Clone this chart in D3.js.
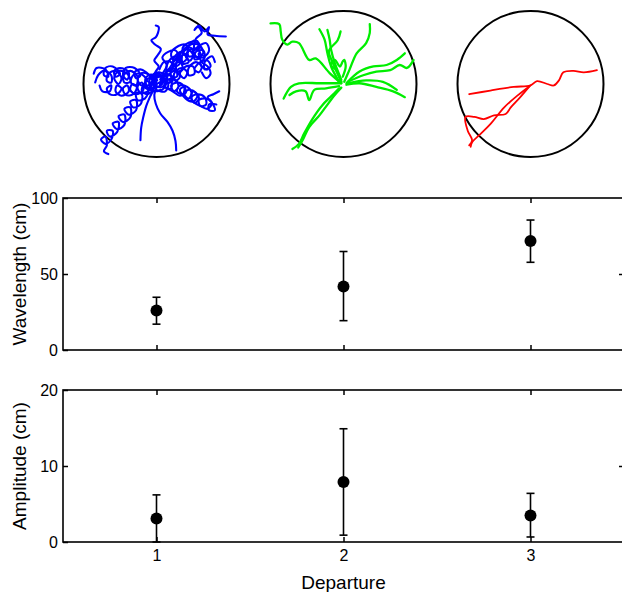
<!DOCTYPE html>
<html>
<head>
<meta charset="utf-8">
<script src="https://cdn.jsdelivr.net/npm/d3@7/dist/d3.min.js"></script>
<style>
  html, body { margin: 0; padding: 0; background: #fff; }
  svg { display: block; font-family: "Liberation Sans", Arial, sans-serif; }
</style>
</head>
<body>
<svg id="chart" width="622" height="592"></svg>
<script>
// ---------------- DATA ----------------
const departures = [1, 2, 3];
const xTickLabels = ["1", "2", "3"];

const wavelengthMean  = [26, 41.7, 71.7];
const wavelengthUpper = [34.7, 64.8, 85.5];
const wavelengthLower = [17, 19.3, 57.7];
const wavelengthTicks = [0, 50, 100];

const amplitudeMean  = [3.1, 7.9, 3.5];
const amplitudeUpper = [6.2, 14.9, 6.4];
const amplitudeLower = [0, 0.9, 0.66];
const amplitudeTicks = [0, 10, 20];

// Trajectories, arena units (radius = 100, origin = arena centre, y downward)
const blueTracks = [
  [[0,-4],[-7,-13],[-15,-8],[-13,2],[-5,-2],[-10,-12],[-20,-15],[-26,-6],[-20,2],[-14,-6],[-22,-14],[-32,-12],[-35,-2],[-28,2],[-26,-10],[-36,-18],[-45,-12],[-44,-2],[-36,-3],[-40,-14],[-52,-18],[-58,-8],[-52,0],[-48,-8],[-56,-18],[-66,-14],[-68,-4],[-62,-2],[-62,-12],[-72,-18],[-80,-12],[-84,-2]],
  [[0,2],[-8,8],[-16,4],[-14,-4],[-7,0],[-12,10],[-22,12],[-26,4],[-20,-2],[-18,8],[-28,14],[-36,8],[-33,0],[-27,4],[-32,14],[-42,15],[-46,6],[-40,2],[-38,10],[-48,16],[-56,10],[-54,2],[-48,6],[-54,14],[-64,14],[-68,6],[-62,2],[-64,10],[-74,10],[-78,2]],
  [[-5,8],[-12,14],[-20,10],[-18,2],[-11,8],[-16,20],[-26,22],[-28,12],[-20,14],[-22,28],[-32,32],[-36,24],[-28,22],[-28,36],[-38,42],[-44,34],[-36,32],[-36,46],[-46,52],[-52,44],[-44,42],[-44,56],[-54,62],[-60,54],[-52,52],[-54,66],[-64,72],[-68,64],[-60,64],[-62,76],[-70,82],[-76,76],[-70,72],[-68,84],[-72,92],[-66,96]],
  [[0,5],[-3,15],[-1,27],[5,40],[15,52],[22,64],[26,78],[27,91]],
  [[-4,8],[-10,20],[-14,30],[-18,45],[-21,60],[-22,77]],
  [[1,-5],[-2,-15],[3,-24],[-3,-32],[2,-40],[6,-48],[-2,-54],[-7,-60],[-1,-64],[2,-70],[3,-78],[-1,-80]],
  [[5,-6],[12,-14],[20,-10],[18,-2],[10,-8],[16,-20],[26,-20],[28,-10],[20,-10],[22,-24],[32,-30],[36,-20],[28,-18],[28,-32],[38,-40],[44,-30],[36,-28],[36,-42],[46,-50],[52,-40],[44,-38],[44,-52],[54,-60],[60,-50],[52,-48],[54,-62],[62,-70],[57,-78],[52,-74],[58,-80],[66,-72],[72,-78],[70,-68],[80,-66],[95,-65]],
  [[5,0],[12,-7],[20,-4],[20,6],[12,4],[16,-6],[26,-6],[30,4],[24,10],[20,2],[30,-2],[38,4],[36,14],[28,10],[32,2],[42,4],[48,12],[44,20],[38,14],[44,8],[54,12],[58,20],[52,26],[48,18],[56,14],[66,18],[68,28],[60,30],[58,22],[68,20],[76,26],[80,36],[72,36],[72,28],[82,28]],
  [[6,-4],[12,-12],[20,-12],[22,-4],[14,-2],[16,-12],[26,-18],[32,-10],[26,-4],[24,-14],[34,-22],[42,-16],[38,-8],[32,-14],[40,-24],[50,-24],[52,-14],[44,-12],[44,-22],[54,-30],[62,-24],[58,-16],[52,-20],[60,-30],[70,-32],[74,-24],[66,-20],[66,-30],[76,-38],[80,-30]],
  [[4,-20],[10,-30],[20,-30],[22,-20],[14,-18],[16,-30],[26,-38],[32,-28],[24,-24],[24,-36],[34,-44],[42,-36],[36,-30],[32,-40],[42,-48],[50,-40],[46,-32],[40,-38],[48,-48],[58,-46],[60,-36],[52,-34],[54,-44],[64,-46],[66,-36],[60,-28],[64,-22],[70,-20]],
  [[0,0],[8,-6],[4,-12],[-4,-8],[-2,2],[8,4],[12,-4],[6,-10],[-6,-4],[-8,6],[2,10],[10,6],[14,-8],[4,-16],[-6,-12],[-10,0],[-4,10],[6,8]],
  [[-2,-2],[-10,-8],[-16,0],[-8,6],[0,0],[-6,-10],[4,-14],[10,-4],[2,4],[-6,-2],[0,8],[12,10],[16,0],[8,-4],[4,4]],
  [[10,-10],[20,-25],[30,-40],[40,-50],[50,-55],[60,-52],[64,-42],[56,-36],[50,-44],[58,-52],[68,-56],[72,-46],[66,-38],[58,-42],[62,-30],[70,-24],[74,-14],[68,-8],[62,-16]],
  [[8,-14],[14,-26],[8,-36],[16,-44],[26,-46],[30,-38],[24,-32],[20,-42],[30,-52],[40,-54],[44,-46],[38,-40],[36,-50],[48,-58],[56,-56],[58,-48],[50,-46],[54,-38],[64,-36]],
  [[-4,-6],[-14,-16],[-22,-20],[-30,-16],[-28,-8],[-22,-12],[-30,-22],[-42,-22],[-46,-12],[-40,-6],[-38,-16],[-50,-22],[-58,-18],[-56,-10],[-50,-14],[-60,-24],[-70,-22],[-72,-12],[-66,-10],[-70,-20],[-82,-22],[-86,-14]],
  [[10,4],[22,10],[32,16],[40,12],[38,4],[32,8],[40,20],[50,24],[56,16],[50,10],[48,22],[60,30],[70,34],[76,26],[70,18],[78,14],[86,10]]
];

const greenTracks = [
  [[-3,-1],[-19,-15],[-38,-35],[-47,-33],[-61,-56],[-70,-58],[-77,-54],[-84,-61],[-86,-72],[-88,-82],[-100,-83]],
  [[-6,-3],[-17,-24],[-22,-42],[-26,-61],[-33,-75]],
  [[-3,-6],[-12,-29],[-17,-47],[-19,-61],[-22,-74]],
  [[-3,-3],[-15,-30],[-20,-45],[-8,-60],[-4,-72]],
  [[1,-3],[8,-19],[18,-42],[31,-56],[36,-70],[36,-82]],
  [[-3,-3],[-10,-19],[-17,-26],[-12,-33],[-5,-24],[-1,-31],[1,-33],[3,-24],[-1,-10]],
  [[4,-1],[22,-17],[41,-24],[59,-26],[73,-33],[84,-42]],
  [[6,-3],[27,-12],[45,-17],[64,-19],[77,-26],[87,-22],[96,-33]],
  [[4,1],[22,-1],[45,4],[68,10],[84,18]],
  [[6,-1],[31,-5],[54,-3],[73,8]],
  [[-3,-1],[-33,-1],[-61,-1],[-72,4],[-82,20]],
  [[-6,3],[-24,6],[-40,8],[-47,22],[-52,10],[-65,10],[-74,15]],
  [[-6,6],[-17,17],[-29,29],[-42,47],[-54,68],[-61,82],[-70,89]],
  [[-3,5],[-12,15],[-24,31],[-33,43],[-47,59],[-56,77],[-62,87]]
];

const redTracks = [
  [[-84,14],[-55,9],[-23,4],[0,2],[9,-4],[23,0],[32,2],[39,-5],[45,-16],[59,-18],[73,-16],[91,-19]],
  [[0,2],[-18,16],[-36,32],[-55,55],[-68,68],[-80,80],[-82,86]],
  [[-2,4],[-14,18],[-27,32],[-34,41],[-50,43],[-64,48],[-77,45],[-89,45],[-86,64],[-80,77],[-84,84]]
];

const trackColors = ["#0000ff", "#00ee00", "#ff0000"];
const trackWidths = [2.1, 2.3, 1.8];
const allTracks = [blueTracks, greenTracks, redTracks];

// ---------------- LAYOUT ----------------
const svg = d3.select("#chart");
const left = 63, right = 624;
const x = d3.scaleLinear().domain([0.5, 3.5]).range([left, right]);

const panels = [
  { top: 198, bottom: 350, domain: [0, 100], ticks: wavelengthTicks, label: "Wavelength (cm)",
    mean: wavelengthMean, upper: wavelengthUpper, lower: wavelengthLower, showX: false },
  { top: 390, bottom: 542, domain: [0, 20], ticks: amplitudeTicks, label: "Amplitude (cm)",
    mean: amplitudeMean, upper: amplitudeUpper, lower: amplitudeLower, showX: true }
];

const tickLen = 5;
panels.forEach(p => {
  const y = d3.scaleLinear().domain(p.domain).range([p.bottom, p.top]);
  const g = svg.append("g");

  // frame
  g.append("rect").attr("x", left).attr("y", p.top)
    .attr("width", right - left).attr("height", p.bottom - p.top)
    .attr("fill", "none").attr("stroke", "#000").attr("stroke-width", 1.6);

  const styleAxis = sel => {
    sel.select(".domain").remove();
    sel.selectAll(".tick line").attr("stroke", "#000").attr("stroke-width", 1.5);
    sel.selectAll("text").attr("fill", "#000").style("font-size", "16px")
      .style("font-family", "'Liberation Sans', Arial, sans-serif");
  };

  g.append("g").attr("transform", `translate(${left},0)`)
    .call(d3.axisLeft(y).tickValues(p.ticks).tickSizeInner(-tickLen).tickSizeOuter(0).tickPadding(5))
    .call(styleAxis);
  g.append("g").attr("transform", `translate(${right},0)`)
    .call(d3.axisRight(y).tickValues(p.ticks.slice(1, -1)).tickSizeInner(-tickLen).tickSizeOuter(0).tickFormat(""))
    .call(styleAxis);
  g.append("g").attr("transform", `translate(0,${p.top})`)
    .call(d3.axisTop(x).tickValues(departures).tickSizeInner(-tickLen).tickSizeOuter(0).tickFormat(""))
    .call(styleAxis);
  g.append("g").attr("transform", `translate(0,${p.bottom})`)
    .call(d3.axisBottom(x).tickValues(departures).tickSizeInner(-tickLen).tickSizeOuter(0).tickPadding(8)
      .tickFormat((d, i) => p.showX ? xTickLabels[i] : ""))
    .call(styleAxis);

  // y label
  g.append("text")
    .attr("transform", `translate(19,${(p.top + p.bottom) / 2}) rotate(-90)`)
    .attr("text-anchor", "middle").attr("dominant-baseline", "central")
    .style("font-size", "19px").text(p.label);

  // error bars
  const cap = 4;
  departures.forEach((d, i) => {
    const cx = x(d);
    const eb = g.append("g").attr("stroke", "#000").attr("stroke-width", 1.6);
    eb.append("line").attr("x1", cx).attr("x2", cx).attr("y1", y(p.upper[i])).attr("y2", y(p.lower[i]));
    eb.append("line").attr("x1", cx - cap).attr("x2", cx + cap).attr("y1", y(p.upper[i])).attr("y2", y(p.upper[i]));
    eb.append("line").attr("x1", cx - cap).attr("x2", cx + cap).attr("y1", y(p.lower[i])).attr("y2", y(p.lower[i]));
    g.append("circle").attr("cx", cx).attr("cy", y(p.mean[i])).attr("r", 6).attr("fill", "#000");
  });

  if (p.showX) {
    svg.append("text").attr("x", x(2)).attr("y", 589)
      .attr("text-anchor", "middle").style("font-size", "19px").text("Departure");
  }
});

// ---------------- ARENAS ----------------
const arenaR = 73, arenaCy = 84;
departures.forEach((d, i) => {
  const cx = x(d);
  const ax = d3.scaleLinear().domain([-100, 100]).range([cx - arenaR, cx + arenaR]);
  const ay = d3.scaleLinear().domain([-100, 100]).range([arenaCy - arenaR, arenaCy + arenaR]);
  const g = svg.append("g");
  g.append("circle").attr("cx", cx).attr("cy", arenaCy).attr("r", arenaR)
    .attr("fill", "none").attr("stroke", "#000").attr("stroke-width", 2);
  const line = d3.line().x(p => ax(p[0])).y(p => ay(p[1])).curve(d3.curveCatmullRom.alpha(0.5));
  g.selectAll("path.track").data(allTracks[i]).join("path")
    .attr("class", "track")
    .attr("d", line)
    .attr("fill", "none")
    .attr("stroke", trackColors[i])
    .attr("stroke-width", trackWidths[i])
    .attr("stroke-linecap", "round")
    .attr("stroke-linejoin", "round");
});
</script>
</body>
</html>
